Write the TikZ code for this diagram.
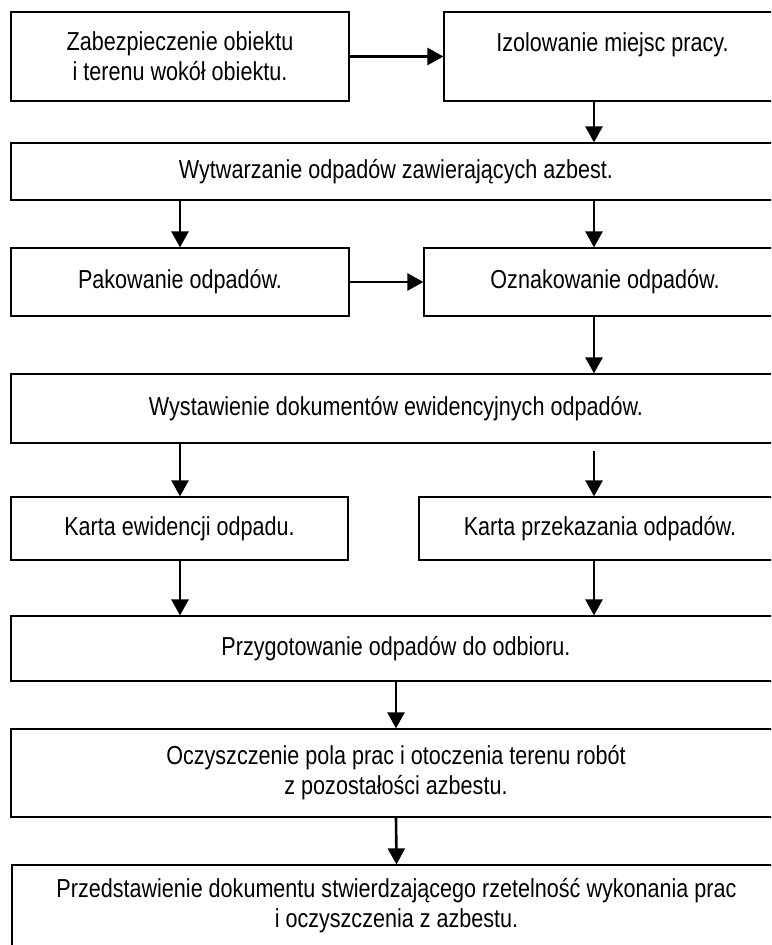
\documentclass[tikz,border=0pt]{standalone}
\usepackage{fontspec}
\setmainfont[FakeStretch=0.83]{Liberation Sans}
\usetikzlibrary{arrows.meta}

\begin{document}
\begin{tikzpicture}[x=0.5pt,y=-0.5pt]
\tikzstyle{rec} = [rectangle,draw=black,fill=none,line width=0.6pt,inner sep=0pt,align=center,font=\fontsize{13}{15}\selectfont]
\tikzstyle{arr} = [-{Triangle[length=8pt,width=8.5pt]},line width=1.3pt]

\useasboundingbox (0,0) rectangle (771,945);
\clip (0,0) rectangle (771,945);

\coordinate (lx) at (180,0);
\coordinate (rx) at (594,0);

\node[rec](securing) at (180,56.5)	[minimum width=169pt,minimum height=44.5pt]	{Zabezpieczenie obiektu\\i terenu wokół obiektu.};
\node[rec](isolating) at (612.5,56.5)	[minimum width=168.5pt,minimum height=44.5pt]	{Izolowanie miejsc pracy.\\[-5pt]\strut};
\node[rec](producing) at (396,171.5)	[minimum width=385pt,minimum height=28.5pt]	{Wytwarzanie odpadów zawierających azbest.};
\node[rec](packing) at (180,282)	[minimum width=169pt,minimum height=34pt]	{Pakowanie odpadów.};
\node[rec](labelling) at (605,282)	[minimum width=181pt,minimum height=34pt]	{Oznakowanie odpadów.};
\node[rec](issuing) at (396,408.5)	[minimum width=385pt,minimum height=34.5pt]	{Wystawienie dokumentów ewidencyjnych odpadów.};
\node[rec](card1) at (179.5,528.5)	[minimum width=168.5pt,minimum height=31.5pt]	{Karta ewidencji odpadu.};
\node[rec](card2) at (600,528.5)	[minimum width=181pt,minimum height=31.5pt]	{Karta przekazania odpadów.};
\node[rec](preparing) at (396,648.5)	[minimum width=385pt,minimum height=32.5pt]	{Przygotowanie odpadów do odbioru.};
\node[rec](cleaning) at (396,773)	[minimum width=385pt,minimum height=44pt]	{Oczyszczenie pola prac i otoczenia terenu robót\\z pozostałości azbestu.};
\node[rec](presenting) at (396.5,906)	[minimum width=384.5pt,minimum height=41pt]	{Przedstawienie dokumentu stwierdzającego rzetelność wykonania prac\\i oczyszczenia z azbestu.};

\draw [arr] (securing.east) -- (isolating.west);
\draw [arr] (isolating.south -| rx) -- (producing.north -| rx);
\draw [arr] (producing.south -| lx) -- (packing.north -| lx);
\draw [arr] (producing.south -| rx) -- (labelling.north -| rx);
\draw [arr] (packing.east) -- (labelling.west);
\draw [arr] (labelling.south -| rx) -- (issuing.north -| rx);

\draw [arr] (issuing.south -| lx) -- (card1.north -| lx);
\draw [arr,shorten <=3.5pt] (issuing.south -| rx) -- (card2.north -| rx);
\draw [arr] (card1.south -| lx) -- (preparing.north -| lx);
\draw [arr] (card2.south -| rx) -- (preparing.north -| rx);
\draw [arr] (preparing.south) -- (cleaning.north);
\draw [arr] (cleaning.south) -- (presenting.north);

\end{tikzpicture}
\end{document}
